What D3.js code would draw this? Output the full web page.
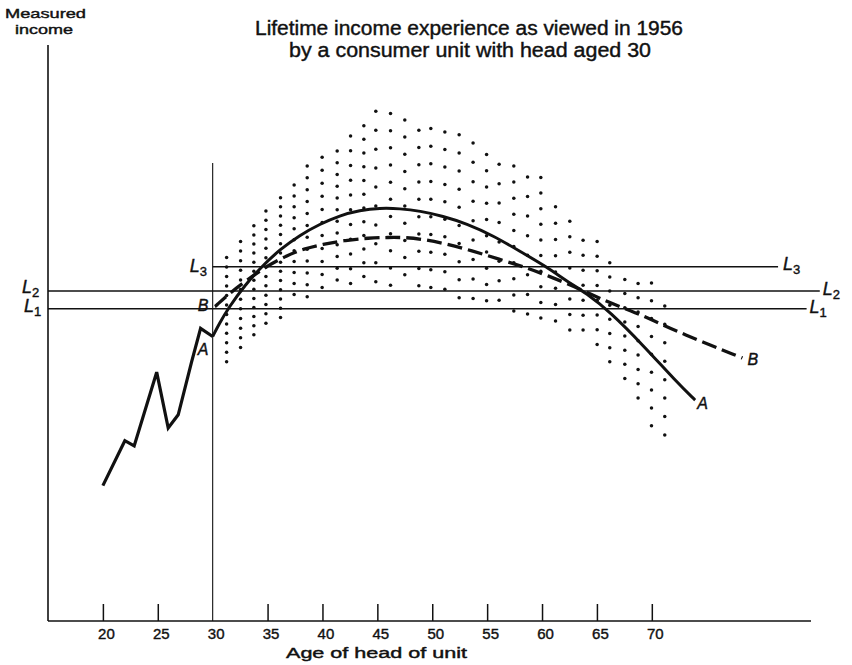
<!DOCTYPE html>
<html>
<head>
<meta charset="utf-8">
<script src="https://cdn.jsdelivr.net/npm/d3@7"></script>
<style>
  html, body { margin: 0; padding: 0; background: #fff; }
  svg { display: block; }
  text { font-family: "Liberation Sans", Arial, sans-serif; fill: #111; stroke: #111; stroke-width: 0.4px; }
</style>
</head>
<body>
<svg id="chart" width="852" height="665"></svg>
<script>
// ---------------- data ----------------
const titleLines = ["Lifetime income experience as viewed in 1956", "by a consumer unit with head aged 30"];
const yLabelLines = ["Measured", "income"];
const xLabel = "Age of head of unit";
const xTicks = [20, 25, 30, 35, 40, 45, 50, 55, 60, 65, 70];

// Curve A: measured income, ages 20-30 (jagged past experience)
const pastAge    = [20, 22, 22.85, 24.9, 25.95, 26.86, 28.08, 28.9, 30];
const pastIncome = [23.5, 31.3, 30.4, 43.2, 33.5, 35.8, 45.0, 50.8, 49.4];

// Curve A: expected income, age 30 onward (solid)
const aAge    = [30, 30.6, 31.41, 32.93, 34.45, 36.12, 37.94, 39.76, 41.58, 43.4, 45.23, 47.05, 48.87, 50.97, 53.12, 55.55, 57.98, 60.41, 62.23, 64.05, 66.17, 69.2, 72.25, 73.92, 73.95];
const aIncome = [49.4, 51.6, 54.3, 58.3, 61.5, 64.5, 67.0, 68.9, 70.4, 71.3, 71.7, 71.6, 71.2, 70.3, 69.0, 66.9, 64.2, 61.5, 59.0, 56.9, 53.7, 47.9, 41.5, 38.4, 38.35];

// Curve B: dashed
const bAge    = [30.2, 30.25, 31.6, 33.2, 35.0, 36.8, 38.3, 40.0, 42.1, 44.2, 46.0, 47.6, 49.4, 51.2, 53.6, 56.1, 58.5, 60.6, 63.4, 65.8, 68.2, 70.0, 72.6, 78.2, 78.25];
const bIncome = [54.6, 54.65, 57.0, 59.3, 61.7, 63.5, 64.6, 65.4, 66.1, 66.5, 66.6, 66.6, 66.2, 65.5, 64.3, 62.8, 61.4, 59.9, 57.7, 55.5, 53.8, 52.3, 50.0, 45.7, 45.65];

// Horizontal levels L1, L2, L3
const levelNames  = ["1", "2", "3"];
const levelIncome = [54.2, 57.3, 61.5];
const levelStart  = [15, 15, 30];
const levelEnd    = [84.1, 85.3, 81.5];

// Stippled band: columns of dots (age, top, bottom, count)
const dotAge    = [31.27, 32.54, 33.75, 34.85, 36.18, 37.42, 38.61, 39.97, 41.34, 42.56, 43.77, 44.86, 46.2, 47.5, 48.78, 49.87, 51.15, 52.45, 53.72, 54.95, 56.09, 57.43, 58.68, 59.89, 61.23, 62.53, 63.74, 65.02, 66.17, 67.54, 68.75, 69.97, 71.18];
const dotTop    = [63.1, 65.9, 68.6, 71.2, 73.5, 75.7, 79.0, 80.5, 81.6, 84.2, 86.0, 88.5, 88.1, 87.0, 85.2, 85.5, 84.9, 84.4, 83.0, 81.0, 79.3, 79.0, 77.1, 77.0, 71.9, 69.4, 66.1, 65.9, 62.2, 59.3, 58.6, 58.7, 54.7];
const dotBottom = [45.0, 47.5, 49.7, 51.7, 52.7, 56.7, 56.3, 57.9, 59.2, 58.6, 59.8, 58.9, 58.3, 60.1, 58.2, 57.9, 57.6, 56.1, 56.0, 55.6, 55.7, 53.8, 53.3, 52.6, 52.1, 50.5, 50.5, 48.0, 45.0, 42.1, 38.7, 33.9, 32.3];
const dotCount  = [12, 12, 13, 13, 14, 11, 12, 11, 12, 11, 12, 10, 11, 10, 10, 10, 10, 10, 9, 10, 8, 10, 8, 10, 8, 8, 7, 8, 8, 8, 9, 9, 8];

const cutAge = 30;      // age at the time of observation
const cutTop = 79.5;    // height of the vertical line at age 30

// ---------------- drawing ----------------
const svg = d3.select("#chart");
const x = d3.scaleLinear().domain([15, 84.5]).range([48, 811]);
const y = d3.scaleLinear().domain([0, 100]).range([621, 45]);

// axes
const axisX = d3.axisBottom(x).tickValues(xTicks).tickSize(0).tickPadding(7).tickFormat(d3.format("d"));
const gx = svg.append("g").attr("transform", `translate(0,${y(0)})`).call(axisX);
gx.select(".domain").attr("stroke", "#111").attr("stroke-width", 1.6).attr("d", `M${x(15)},0H${x(84.5)}`);
gx.selectAll(".tick text").attr("font-size", 15).attr("fill", "#111").style("font-family", "Liberation Sans, Arial, sans-serif").attr("dx", 3);
gx.selectAll(".tick").filter(d => d !== cutAge).append("line")
  .attr("y1", 0).attr("y2", -17).attr("stroke", "#111").attr("stroke-width", 1.5);

svg.append("line").attr("x1", x(15)).attr("x2", x(15)).attr("y1", y(0)).attr("y2", y(100))
  .attr("stroke", "#111").attr("stroke-width", 1.6);

// vertical line at age 30
svg.append("line").attr("x1", x(cutAge)).attr("x2", x(cutAge)).attr("y1", y(0)).attr("y2", y(cutTop))
  .attr("stroke", "#111").attr("stroke-width", 1.1);

// stipple
const dots = [];
dotAge.forEach((a, i) => {
  const n = dotCount[i];
  for (let k = 0; k < n; k++) {
    const v = dotTop[i] - (dotTop[i] - dotBottom[i]) * (n === 1 ? 0 : k / (n - 1));
    dots.push([a, v]);
  }
});
svg.append("g").selectAll("circle").data(dots).join("circle")
  .attr("cx", d => x(d[0])).attr("cy", d => y(d[1])).attr("r", 1.75).attr("fill", "#111");

// levels
levelIncome.forEach((v, i) => {
  svg.append("line").attr("x1", x(levelStart[i])).attr("x2", x(levelEnd[i]))
    .attr("y1", y(v)).attr("y2", y(v)).attr("stroke", "#111").attr("stroke-width", 1.5);
});

function lLabel(px, py, sub) {
  const t = svg.append("text").attr("x", px).attr("y", py).attr("font-size", 18).attr("font-style", "italic");
  t.append("tspan").text("L");
  t.append("tspan").attr("font-size", 13).attr("font-style", "normal").attr("dy", 4).attr("dx", 0).text(sub);
}
// right-hand labels
lLabel(x(levelEnd[2]) + 5, y(levelIncome[2]) + 3, levelNames[2]);
lLabel(x(levelEnd[1]) + 3, y(levelIncome[1]) + 4, levelNames[1]);
lLabel(x(levelEnd[0]) + 3, y(levelIncome[0]) + 4, levelNames[0]);
// left-hand labels
lLabel(x(15) - 26, y(levelIncome[1]) + 2, levelNames[1]);
lLabel(x(15) - 24, y(levelIncome[0]) + 3, levelNames[0]);
lLabel(x(cutAge) - 23, y(levelIncome[2]) + 5, levelNames[2]);

// curves
const lineLin = d3.line().x(d => x(d[0])).y(d => y(d[1]));
const lineSmooth = d3.line().x(d => x(d[0])).y(d => y(d[1])).curve(d3.curveBasis);

svg.append("path").attr("d", lineLin(pastAge.map((a, i) => [a, pastIncome[i]])))
  .attr("fill", "none").attr("stroke", "#111").attr("stroke-width", 3.2).attr("stroke-linejoin", "miter");
svg.append("path").attr("d", lineSmooth(aAge.map((a, i) => [a, aIncome[i]])))
  .attr("fill", "none").attr("stroke", "#111").attr("stroke-width", 3);
svg.append("path").attr("d", lineSmooth(bAge.map((a, i) => [a, bIncome[i]])))
  .attr("fill", "none").attr("stroke", "#111").attr("stroke-width", 3.3).attr("stroke-dasharray", "15,6");

// curve labels
function curveLabel(px, py, txt) {
  svg.append("text").attr("x", px).attr("y", py).attr("font-size", 16).attr("font-style", "italic").text(txt);
}
curveLabel(x(cutAge) - 15, y(levelIncome[0]) + 2, "B");
curveLabel(x(cutAge) - 15, y(pastIncome[pastIncome.length - 1]) + 19, "A");
curveLabel(x(bAge[bAge.length - 1]) + 5, y(bIncome[bIncome.length - 1]) + 7, "B");
curveLabel(x(aAge[aAge.length - 1]) + 2, y(aIncome[aIncome.length - 1]) + 9, "A");

// titles
svg.append("text").attr("x", 255).attr("y", 35).attr("font-size", 19.5)
  .attr("textLength", 428).attr("lengthAdjust", "spacingAndGlyphs").text(titleLines[0]);
svg.append("text").attr("x", 289).attr("y", 57).attr("font-size", 19.5)
  .attr("textLength", 362).attr("lengthAdjust", "spacingAndGlyphs").text(titleLines[1]);

svg.append("text").attr("x", 5).attr("y", 18).attr("font-size", 13)
  .attr("textLength", 81).attr("lengthAdjust", "spacingAndGlyphs").text(yLabelLines[0]);
svg.append("text").attr("x", 15).attr("y", 34).attr("font-size", 13)
  .attr("textLength", 58).attr("lengthAdjust", "spacingAndGlyphs").text(yLabelLines[1]);

svg.append("text").attr("x", 286).attr("y", 658).attr("font-size", 14)
  .attr("textLength", 181).attr("lengthAdjust", "spacingAndGlyphs").text(xLabel);
</script>
</body>
</html>
